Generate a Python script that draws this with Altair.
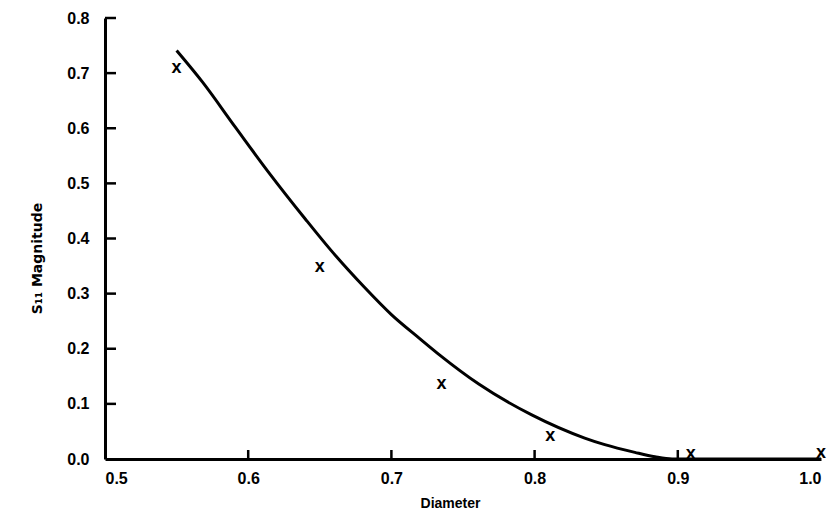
import altair as alt
import pandas as pd

# measured points (x markers)
meas_d = [0.550, 0.650, 0.735, 0.811, 0.909, 1.000]
meas_s = [0.705, 0.345, 0.133, 0.039, 0.006, 0.007]

# theoretical curve
curve_d = [0.550, 0.568, 0.591, 0.614, 0.640, 0.658, 0.681, 0.700, 0.720, 0.734, 0.761, 0.798,
           0.835, 0.849, 0.870, 0.884, 0.896, 0.950, 1.000]
curve_s = [0.741, 0.684, 0.602, 0.521, 0.435, 0.378, 0.312, 0.262, 0.218, 0.188, 0.136, 0.080,
           0.038, 0.026, 0.012, 0.004, 0.000, 0.000, 0.000]

y_ticks = [0.1, 0.2, 0.3, 0.4, 0.5, 0.6, 0.7, 0.8]
x_ticks = [0.6, 0.7, 0.8, 0.9]

W, H = 716, 441
FONT = "Liberation Sans"

curve = pd.DataFrame({"d": curve_d, "s": curve_s})
meas = pd.DataFrame({"d": meas_d, "s": meas_s})

xs = alt.Scale(domain=[0.5, 1.0], nice=False, zero=False)
ys = alt.Scale(domain=[0.0, 0.8], nice=False)

xax = alt.Axis(values=[0.5, 0.6, 0.7, 0.8, 0.9, 1.0], format=".1f", ticks=False, grid=False,
               domainColor="black", domainWidth=3, labelFont=FONT, labelFontSize=16,
               labelFontWeight="bold", labelColor="black", labelPadding=11, labelFlush=True,
               title="Diameter", titleFont=FONT, titleFontSize=14, titleFontWeight="bold",
               titleColor="black", titlePadding=10, titleX=345)
yax = alt.Axis(values=[0.0, 0.1, 0.2, 0.3, 0.4, 0.5, 0.6, 0.7, 0.8], format=".1f", ticks=False,
               grid=False, domainColor="black", domainWidth=3, labelFont=FONT, labelFontSize=16,
               labelFontWeight="bold", labelColor="black", labelPadding=16,
               title="S₁₁ Magnitude", titleFont="DejaVu Sans", titleFontSize=14,
               titleFontWeight="bold", titleColor="black", titlePadding=22, titleY=240)

line = alt.Chart(curve).mark_line(color="black", strokeWidth=3, interpolate="monotone").encode(
    x=alt.X("d:Q", scale=xs, axis=xax),
    y=alt.Y("s:Q", scale=ys, axis=yax),
)

pts = alt.Chart(meas).mark_text(text="x", font=FONT, fontSize=18, fontWeight="bold",
                                color="black", baseline="middle", dy=-2).encode(
    x=alt.X("d:Q", scale=xs),
    y=alt.Y("s:Q", scale=ys),
)

yt = alt.Chart(pd.DataFrame({"v": y_ticks})).mark_rule(color="black", strokeWidth=2.5).encode(
    y=alt.Y("v:Q", scale=ys), x=alt.value(0), x2=alt.value(11)
)
xt = alt.Chart(pd.DataFrame({"v": x_ticks})).mark_rule(color="black", strokeWidth=2.5).encode(
    x=alt.X("v:Q", scale=xs), y=alt.value(H), y2=alt.value(H - 9)
)

chart = alt.layer(line, pts, yt, xt).properties(
    width=W, height=H,
    autosize=alt.AutoSizeParams(type="none"),
    padding={"left": 97, "top": 10, "right": 7, "bottom": 50},
    background="white",
).configure_view(stroke=None)

chart.save("out.html", embed_options={"renderer": "svg", "actions": False})
